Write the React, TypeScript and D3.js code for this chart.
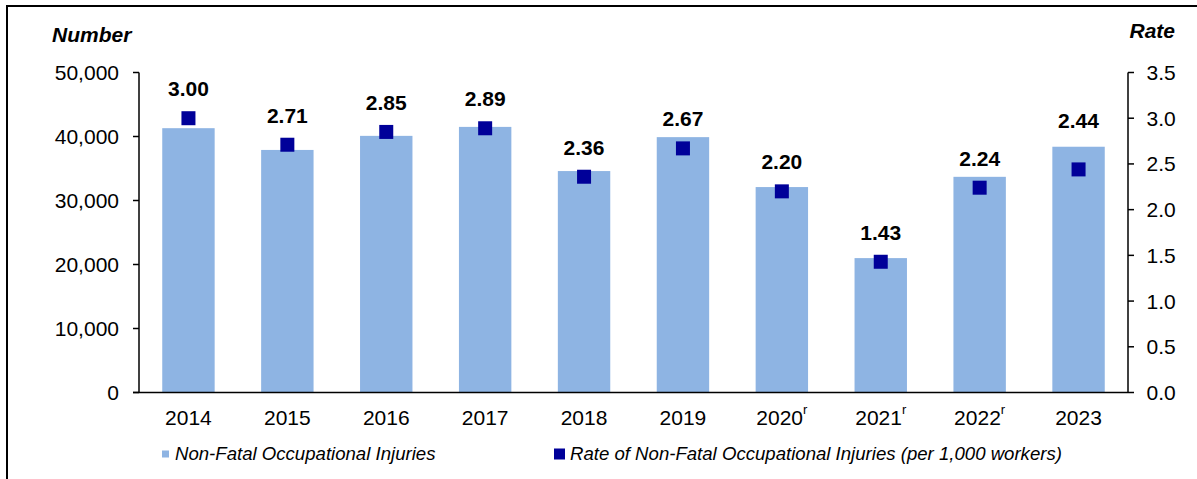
import React from "react";
import * as d3 from "d3";

const years = ["2014", "2015", "2016", "2017", "2018", "2019", "2020", "2021", "2022", "2023"];
const revised = [false, false, false, false, false, false, true, true, true, false];
const injuries = [41300, 37900, 40100, 41500, 34600, 39900, 32100, 21000, 33700, 38400];
const rates = [3.0, 2.71, 2.85, 2.89, 2.36, 2.67, 2.2, 1.43, 2.24, 2.44];
const leftTicks = [0, 10000, 20000, 30000, 40000, 50000];
const rightTicks = [0, 0.5, 1.0, 1.5, 2.0, 2.5, 3.0, 3.5];

const W = 1197;
const H = 479;
const M = { left: 139, right: 1128, top: 72.5, bottom: 392.5 };
const FONT = "'Liberation Sans', Arial, sans-serif";
const BAR = "#8EB4E3";
const MARK = "#000099";

export default function App() {
  const x = d3.scaleBand<string>().domain(years).range([M.left, M.right]).paddingInner(0.47).paddingOuter(0.235);
  const yL = d3.scaleLinear().domain([0, 50000]).range([M.bottom, M.top]);
  const yR = d3.scaleLinear().domain([0, 3.5]).range([M.bottom, M.top]);
  const fmt = d3.format(",");
  const ms = 14;

  return (
    <svg width={W} height={H} style={{ position: "absolute", left: 0, top: 0, background: "#fff" }} fontFamily={FONT}>
      <rect x={7} y={6} width={1300} height={600} fill="none" stroke="#000" strokeWidth={2} />
      <text x={52} y={41.5} fontSize={21} fontWeight="bold" fontStyle="italic">Number</text>
      <text x={1175} y={37.5} fontSize={21} fontWeight="bold" fontStyle="italic" textAnchor="end">Rate</text>

      {years.map((yr, i) => (
        <rect key={"b" + yr} x={x(yr)} y={yL(injuries[i])} width={x.bandwidth()} height={M.bottom - yL(injuries[i])} fill={BAR} />
      ))}

      {/* left axis */}
      <line x1={M.left} x2={M.left} y1={M.top} y2={M.bottom} stroke="#000" strokeWidth={1.5} />
      {leftTicks.map((t) => (
        <g key={"l" + t}>
          <line x1={M.left - 6} x2={M.left} y1={yL(t)} y2={yL(t)} stroke="#000" strokeWidth={1.5} />
          <text x={119} y={yL(t)} dy="0.36em" fontSize={21} textAnchor="end">{fmt(t)}</text>
        </g>
      ))}
      {/* right axis */}
      <line x1={M.right} x2={M.right} y1={M.top} y2={M.bottom} stroke="#000" strokeWidth={1.5} />
      {rightTicks.map((t) => (
        <g key={"r" + t}>
          <line x1={M.right} x2={M.right + 6} y1={yR(t)} y2={yR(t)} stroke="#000" strokeWidth={1.5} />
          <text x={1146.5} y={yR(t)} dy="0.36em" fontSize={21}>{t.toFixed(1)}</text>
        </g>
      ))}
      {/* bottom axis */}
      <line x1={M.left - 6} x2={M.right} y1={M.bottom} y2={M.bottom} stroke="#000" strokeWidth={1.5} />
      {years.map((yr, i) => (
        <text key={"x" + yr} x={(x(yr) as number) + x.bandwidth() / 2} y={425} fontSize={21} textAnchor="middle">
          {yr}
          {revised[i] ? <tspan fontSize={13} dy={-11}>r</tspan> : null}
        </text>
      ))}

      {years.map((yr, i) => {
        const cx = (x(yr) as number) + x.bandwidth() / 2;
        const cy = yR(rates[i]);
        const mTop = cy - ms / 2;
        const bTop = yL(injuries[i]);
        const base = mTop - bTop > 10 ? bTop - 19 : mTop - 15;
        return (
          <g key={"m" + yr}>
            <rect x={cx - ms / 2} y={cy - ms / 2} width={ms} height={ms} fill={MARK} />
            <text x={cx} y={base} fontSize={21} fontWeight="bold" textAnchor="middle">{rates[i].toFixed(2)}</text>
          </g>
        );
      })}

      {/* legend */}
      <rect x={162} y={450.5} width={7} height={7} fill={BAR} />
      <text x={175} y={460} fontSize={18.6} fontStyle="italic">Non-Fatal Occupational Injuries</text>
      <rect x={554} y={448.5} width={11} height={11} fill={MARK} />
      <text x={570} y={460} fontSize={18.6} fontStyle="italic">Rate of Non-Fatal Occupational Injuries (per 1,000 workers)</text>
    </svg>
  );
}
